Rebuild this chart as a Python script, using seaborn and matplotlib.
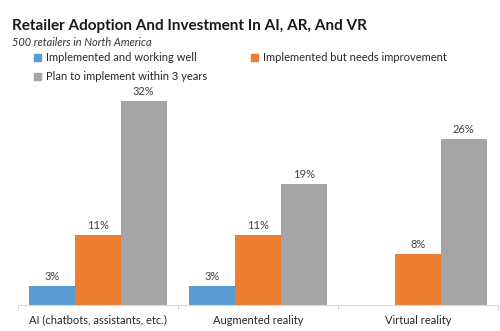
import matplotlib
matplotlib.use("Agg")
import matplotlib.pyplot as plt
import seaborn as sns
import pandas as pd
from matplotlib.patches import Patch

categories = ["AI (chatbots, assistants, etc.)", "Augmented reality", "Virtual reality"]
series = ["Implemented and working well", "Implemented but needs improvement", "Plan to implement within 3 years"]
working_well = [3, 3, 0]
needs_improvement = [11, 11, 8]
plan_3_years = [32, 19, 26]
colors = ["#5B9BD5", "#ED7D31", "#A5A5A5"]

rows = []
for s, vals in zip(series, [working_well, needs_improvement, plan_3_years]):
    for c, v in zip(categories, vals):
        rows.append({"category": c, "series": s, "value": v})
df = pd.DataFrame(rows)

sns.set_style("white")
plt.rcParams["font.family"] = ["Lato", "DejaVu Sans"]

fig = plt.figure(figsize=(5, 3.31), dpi=100)
ax = fig.add_axes([0.036, 0.0785, 0.96, 0.674])

sns.barplot(data=df, x="category", y="value", hue="series", order=categories,
            hue_order=series, palette=colors, saturation=1, width=0.86, gap=0,
            linewidth=0, legend=False, ax=ax)

for cont in ax.containers:
    labels = [f"{int(round(b.get_height()))}%" if b.get_height() > 0 else "" for b in cont]
    ax.bar_label(cont, labels=labels, padding=3, fontsize=8, color="#404040")

ax.set_ylim(0, 35)
ax.set_xlim(-0.5, 2.5)
ax.set_xlabel("")
ax.set_ylabel("")
ax.set_yticks([])
for sp in ["left", "right", "top"]:
    ax.spines[sp].set_visible(False)
ax.spines["bottom"].set_color("#D9D9D9")
ax.spines["bottom"].set_linewidth(0.8)
ax.set_xticks([0, 1, 2])
ax.set_xticklabels(categories, fontsize=8, color="#262626")
ax.tick_params(axis="x", length=0, pad=7)
for xs in [-0.5, 0.5, 1.5, 2.5]:
    ax.plot([xs, xs], [0, -0.8], color="#D9D9D9", lw=0.8, clip_on=False)

fig.text(0.024, 0.921, "Retailer Adoption And Investment In AI, AR, And VR",
         fontsize=11, fontweight="bold", color="#1a1a1a", va="center", ha="left")
fig.text(0.024, 0.873, "500 retailers in North America", fontsize=7.9,
         fontstyle="italic", color="#333333", va="center", ha="left")

handles = [Patch(color=c) for c in colors]
leg_kw = dict(loc="upper left", frameon=False, fontsize=8, handlelength=0.6,
              handleheight=0.6, handletextpad=0.5, labelspacing=0.72,
              borderaxespad=0, borderpad=0)
leg1 = fig.legend([handles[0], handles[2]], [series[0], series[2]],
                  bbox_to_anchor=(0.068, 0.843), **leg_kw)
leg2 = fig.legend([handles[1]], [series[1]],
                  bbox_to_anchor=(0.502, 0.843), **leg_kw)
for lg in (leg1, leg2):
    for t in lg.get_texts():
        t.set_color("#262626")

fig.savefig("out.png", dpi=100)
